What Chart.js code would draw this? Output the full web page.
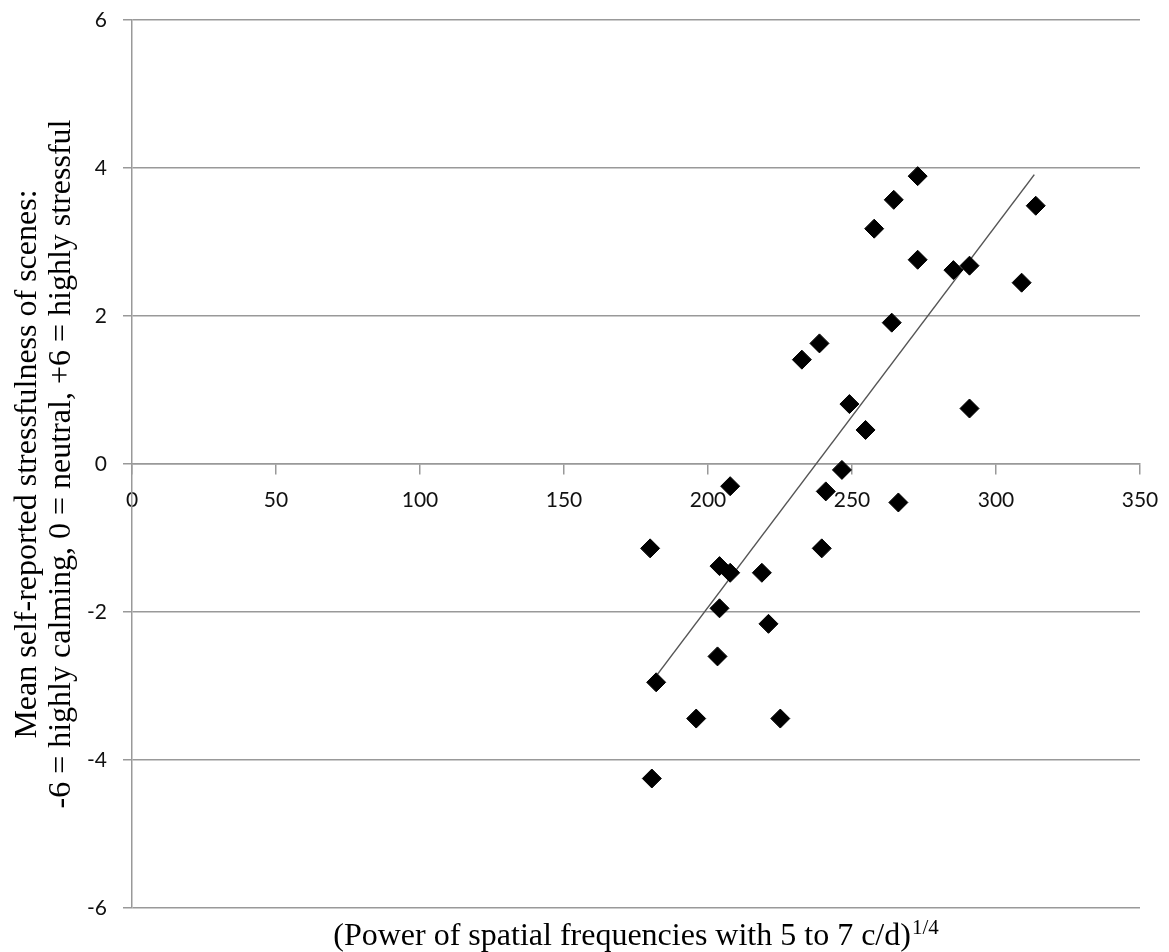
<html>
  <head>
    <style>
      body { margin: 0; background: #fff; }
    </style>
  </head>
  <body>
    <script src="https://cdn.jsdelivr.net/npm/chart.js@4/dist/chart.umd.min.js"></script>
    <canvas id="stressChart" width="1169" height="952"></canvas>

    <script>
      // spectral power (x) vs. mean stress rating (y), one point per scene
      const powerX = [
        179.9, 180.5, 182.0, 195.9, 203.3, 204.0, 204.0, 207.7, 207.7, 218.7,
        221.0, 225.1, 232.6, 238.7, 239.5, 240.9, 246.5, 249.1, 254.7, 257.7,
        263.8, 264.5, 266.1, 272.8, 272.8, 285.2, 290.8, 290.8, 308.9, 313.8
      ];
      const stressY = [
        -1.14, -4.25, -2.95, -3.44, -2.60, -1.38, -1.95, -0.30, -1.47, -1.47,
        -2.16, -3.44, 1.41, 1.63, -1.14, -0.37, -0.08, 0.81, 0.46, 3.18,
        1.91, 3.57, -0.52, 3.89, 2.76, 2.62, 2.68, 0.75, 2.45, 3.49
      ];

      // linear trend, end points
      const trendX = [182.5, 313.3];
      const trendY = [-2.84, 3.91];

      const xTicks = [0, 50, 100, 150, 200, 250, 300, 350];
      const yTicks = [-6, -4, -2, 0, 2, 4, 6];

      const xTitle = '(Power of spatial frequencies with 5 to 7 c/d)';
      const xTitleSup = '1/4';
      const yTitle = [
        'Mean self-reported stressfulness of scenes:',
        '-6 = highly calming, 0 = neutral, +6 = highly stressful'
      ];

      const serif = '"Liberation Serif", "Times New Roman", serif';
      const gridGray = '#999999';

      // axis titles drawn by hand (x title needs a superscript)
      const axisTitles = {
        id: 'axisTitles',
        afterDraw(chart) {
          const ctx = chart.ctx;
          const area = chart.chartArea;
          ctx.save();
          ctx.fillStyle = '#000';
          ctx.textAlign = 'left';
          ctx.textBaseline = 'alphabetic';

          ctx.font = '32px ' + serif;
          const mainW = ctx.measureText(xTitle).width;
          ctx.font = '21px ' + serif;
          const supW = ctx.measureText(xTitleSup).width;
          const x0 = (area.left + area.right) / 2 - (mainW + supW + 1) / 2;
          const base = area.bottom + 37;
          ctx.font = '32px ' + serif;
          ctx.fillText(xTitle, x0, base);
          ctx.font = '21px ' + serif;
          ctx.fillText(xTitleSup, x0 + mainW + 1, base - 11);

          ctx.translate(0, (area.top + area.bottom) / 2);
          ctx.rotate(-Math.PI / 2);
          ctx.textAlign = 'center';
          ctx.font = '32px ' + serif;
          yTitle.forEach((line, i) => ctx.fillText(line, 0, 36 + i * 34));
          ctx.restore();
        }
      };

      // keep the plot box fixed: no extra room for the edge tick labels
      function noEdgePadding(scale) {
        scale.paddingTop = 0;
        scale.paddingBottom = 0;
        scale.paddingLeft = 0;
        scale.paddingRight = 0;
      }

      const points = powerX.map((x, i) => ({ x: x, y: stressY[i] }));
      const trend = trendX.map((x, i) => ({ x: x, y: trendY[i] }));

      const ctx = document.getElementById('stressChart').getContext('2d');
      const chart = new Chart(ctx, {
        type: 'scatter',
        data: {
          datasets: [
            {
              data: points,
              pointStyle: 'rectRot',
              pointRadius: 9.5,
              pointBackgroundColor: '#000',
              pointBorderColor: '#000',
              pointBorderWidth: 1,
              order: 1
            },
            {
              data: trend,
              showLine: true,
              borderColor: '#555',
              borderWidth: 1.5,
              pointRadius: 0,
              order: 2
            }
          ]
        },
        options: {
          responsive: false,
          animation: false,
          devicePixelRatio: 1,
          layout: { padding: { left: 0, top: 20, right: 29, bottom: 44 } },
          plugins: {
            legend: { display: false },
            tooltip: { enabled: false }
          },
          scales: {
            x: {
              type: 'linear',
              position: { y: 0 },
              min: 0,
              max: 350,
              afterBuildTicks: (scale) => { scale.ticks = xTicks.map(v => ({ value: v })); },
              afterFit: noEdgePadding,
              ticks: {
                color: '#111',
                font: { family: 'Lato', size: 21 },
                padding: 14,
                maxRotation: 0,
                autoSkip: false
              },
              grid: {
                drawOnChartArea: false,
                drawTicks: true,
                tickLength: 10,
                color: gridGray,
                lineWidth: 1.5
              },
              border: { color: gridGray, width: 1.5 }
            },
            y: {
              type: 'linear',
              min: -6,
              max: 6,
              afterBuildTicks: (scale) => { scale.ticks = yTicks.map(v => ({ value: v })); },
              afterFit: (scale) => { scale.width = 132; noEdgePadding(scale); },
              ticks: {
                color: '#111',
                font: { family: 'Lato', size: 21 },
                padding: 16
              },
              grid: {
                color: gridGray,
                lineWidth: 1.5,
                tickLength: 9
              },
              border: { color: gridGray, width: 1.5 }
            }
          }
        },
        plugins: [axisTitles]
      });
    </script>
  </body>
</html>
